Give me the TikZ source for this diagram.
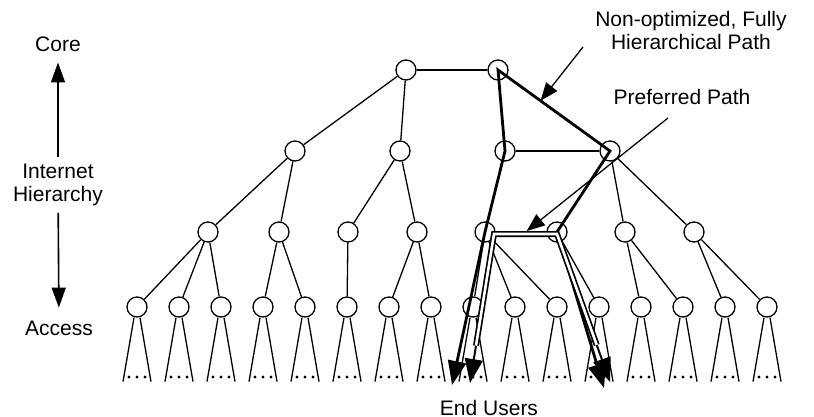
\documentclass[tikz,border=0pt]{standalone}
\usepackage{fontspec}
\setmainfont{Liberation Sans}
\usetikzlibrary{arrows.meta,calc}

\tikzset{
  router/.style={circle, draw, fill=white, inner sep=0pt, minimum size=10pt, line width=0.65pt},
  link/.style={line width=0.65pt},
  txt/.style={font=\fontsize{10.5}{11.5}\selectfont, align=center},
  pointer/.style={line width=0.65pt, -{Triangle[length=9pt,width=7pt]}},
  axis/.style={line width=0.8pt, -{Triangle[length=10pt,width=7pt]}},
  hierpath/.style={line width=1.4pt, {Triangle[length=12pt,width=9pt]}-{Triangle[length=12pt,width=9pt]}},
  prefpath/.style={double, double distance=1.3pt, line width=0.85pt},
  preftip/.style={line width=1pt, -{Triangle[length=12pt,width=9pt]}},
}

\begin{document}
\begin{tikzpicture}[x=0.5pt, y=-0.5pt]
\useasboundingbox (0,0) rectangle (814,417);

% core
\node [router] (core1) at (406,70) {};
\node [router] (core2) at (498,70) {};

% regional
\node [router] (r1) at (295,151) {};
\node [router] (r2) at (400,151) {};
\node [router] (r3) at (505,151) {};
\node [router] (r4) at (610,151) {};

% distribution
\node [router] (d1) at (208,232) {};
\node [router] (d2) at (279,232) {};
\node [router] (d3) at (348,232) {};
\node [router] (d4) at (417,232) {};
\node [router] (d5) at (485,232) {};
\node [router] (d6) at (557,232) {};
\node [router] (d7) at (625,232) {};
\node [router] (d8) at (694,232) {};

% access
\node [router] (a1) at (137,307) {};
\node [router] (a2) at (179,307) {};
\node [router] (a3) at (221,307) {};
\node [router] (a4) at (263,307) {};
\node [router] (a5) at (305,307) {};
\node [router] (a6) at (347,307) {};
\node [router] (a7) at (389,307) {};
\node [router] (a8) at (431,307) {};
\node [router] (a9) at (473,307) {};
\node [router] (a10) at (515,307) {};
\node [router] (a11) at (557,307) {};
\node [router] (a12) at (599,307) {};
\node [router] (a13) at (641,307) {};
\node [router] (a14) at (683,307) {};
\node [router] (a15) at (725,307) {};
\node [router] (a16) at (767,307) {};

% texts
\node [txt] (corelbl) at (58,44) {Core};
\node [txt] (hier) at (58,185) {Internet\\Hierarchy};
\node [txt] (accesslbl) at (59,328) {Access};
\node [txt] (users) at (489,408) {End Users};
\node [txt] (nonopt) at (691,30) {Non-optimized, Fully\\Hierarchical Path};
\node [txt] (pref) at (682,97) {Preferred Path};

\draw [axis, shorten >=2pt] (hier) -- (corelbl);
\draw [axis, shorten >=3pt] (hier) -- (accesslbl);

\draw [link] (core1) -- (core2);
\draw [link] (core1) -- (r1);
\draw [link] (core1) -- (r2);
\draw [link] (core2) -- (r3);
\draw [link] (core2) -- (r4);
\draw [link] (r3) -- (r4);

\draw [link] (r1) -- (d1);
\draw [link] (r1) -- (d2);
\draw [link] (r2) -- (d3);
\draw [link] (r2) -- (d4);
\draw [link] (r3) -- (d5);
\draw [link] (r4) -- (d6);
\draw [link] (r4) -- (d7);
\draw [link] (r4) -- (d8);

\draw [link] (d1) -- (a1);
\draw [link] (d1) -- (a2);
\draw [link] (d1) -- (a3);
\draw [link] (d2) -- (a4);
\draw [link] (d2) -- (a5);
\draw [link] (d3) -- (a6);
\draw [link] (d4) -- (a7);
\draw [link] (d4) -- (a8);
\draw [link] (d5) -- (a9);
\draw [link] (d5) -- (a10);
\draw [link] (d5) -- (a11);
\draw [link] (d6) -- (a12);
\draw [link] (d7) -- (a13);
\draw [link] (d7) -- (a14);
\draw [link] (d8) -- (a15);
\draw [link] (d8) -- (a16);

% end users below each access router
\foreach \n in {1,...,16} {
  \draw [link] ([xshift=-1.5pt]a\n.south) -- ++(-11,64);
  \draw [link] ([xshift=1.5pt]a\n.south) -- ++(11,64);
  \fill (a\n) ++(-8,70) circle (0.8pt) ++(8,0) circle (0.8pt) ++(8,0) circle (0.8pt);
}

% the two paths
\coordinate (srcA) at (452,385);
\coordinate (dstA) at (604,388);
\coordinate (srcB) at (470,383);
\coordinate (dstB) at (610,382);
\coordinate (bend1) at (494,234);
\coordinate (bend2) at (557,234);
\coordinate (pb1) at ($(bend1)!0.75!(srcB)$);
\coordinate (pb2) at ($(bend2)!0.75!(dstB)$);

\draw [hierpath] (srcA) -- (d5.center) -- (r3.center) -- (core2.center) -- (r4.center) -- (d6.center) -- (dstA);
\draw [prefpath] (pb1) -- (bend1) -- (bend2) -- (pb2);
\draw [preftip] (pb1) -- (srcB);
\draw [preftip] (pb2) -- (dstB);

\draw [pointer] (583,47) -- ($(core2)!0.38!(r4)$);
\draw [pointer] (668,118) -- ($(bend1)!0.52!(bend2)+(0,-3)$);
\end{tikzpicture}
\end{document}
